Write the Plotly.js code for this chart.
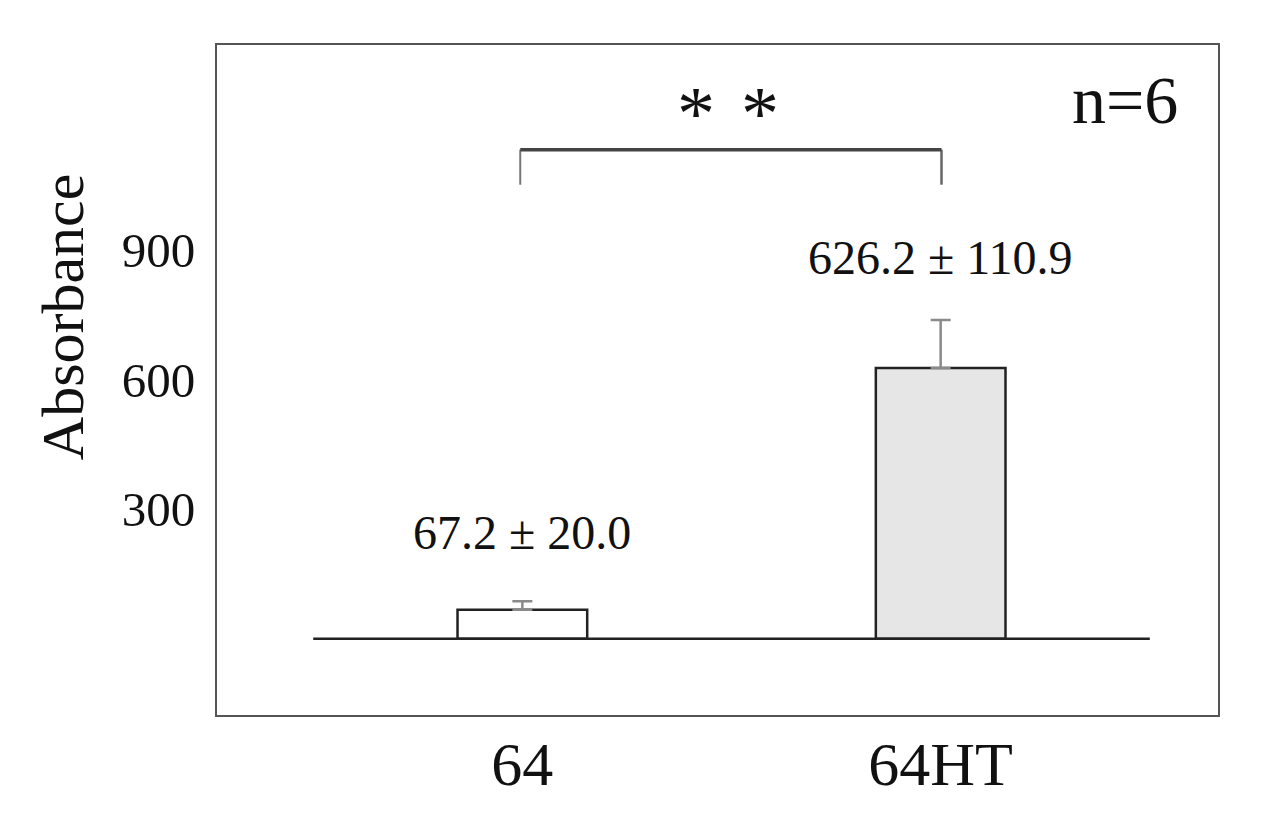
<!DOCTYPE html>
<html>
<head>
<meta charset="utf-8">
<script src="https://cdn.plot.ly/plotly-3.0.1.min.js"></script>
<style>html,body{margin:0;padding:0;background:#fff;}#chart{width:1262px;height:815px;}</style>
</head>
<body>
<div id="chart"></div>
<script>
const categories = ['64', '64HT'];
const means = [67.2, 626.2];
const sems = [20.0, 110.9];
const barColors = ['#ffffff', '#e6e6e6'];
const yTicks = [300, 600, 900];
const valueLabels = ['67.2 ± 20.0', '626.2 ± 110.9'];
const labelY = [245, 882];

const FONT = 'Liberation Serif, Times New Roman, serif';

const trace = {
  type: 'bar',
  x: categories,
  y: means,
  width: 0.31,
  marker: { color: barColors, line: { color: '#222', width: 2.5 } },
  error_y: { type: 'data', symmetric: false, array: sems, arrayminus: [0, 0], color: '#8a8a8a', thickness: 2.5, width: 10 },
  hoverinfo: 'none'
};

const annotations = categories.map((c, i) => ({
  x: i, y: labelY[i], xref: 'x', yref: 'y', text: valueLabels[i], showarrow: false,
  xanchor: 'center', yanchor: 'middle', font: { family: FONT, size: 48, color: '#111' }
}));
[0.416, 0.567].forEach(xp => annotations.push({ x: xp, y: 1215, xref: 'x', yref: 'y', text: '*', showarrow: false,
  xanchor: 'center', yanchor: 'middle', font: { family: FONT, size: 76, color: '#111' } }));
annotations.push({ x: 1.44, y: 1245, xref: 'x', yref: 'y', text: 'n=6', showarrow: false,
  xanchor: 'center', yanchor: 'middle', font: { family: FONT, size: 68, color: '#111' } });
annotations.push({ x: -0.153, y: 0.595, xref: 'paper', yref: 'paper', text: 'Absorbance', showarrow: false,
  textangle: -90, xanchor: 'center', yanchor: 'middle', font: { family: FONT, size: 60, color: '#111' } });

const layout = {
  width: 1262, height: 815,
  margin: { l: 217, r: 44, t: 45, b: 100 },
  paper_bgcolor: '#fff', plot_bgcolor: '#fff',
  showlegend: false,
  font: { family: FONT, color: '#111' },
  xaxis: {
    type: 'category', range: [-0.73, 1.663], showgrid: false, zeroline: false,
    showline: true, mirror: true, linecolor: '#555', linewidth: 2, ticks: '',
    tickfont: { family: FONT, size: 62, color: '#111' }, ticklabelstandoff: -6
  },
  yaxis: {
    range: [-176, 1373], tickvals: yTicks, ticktext: yTicks.map(String), showgrid: false, zeroline: false,
    showline: true, mirror: true, linecolor: '#555', linewidth: 2, ticks: '',
    tickfont: { family: FONT, size: 49, color: '#111' }, ticklabelstandoff: 10
  },
  shapes: [
    { type: 'line', xref: 'x', yref: 'y', x0: -0.5, x1: 1.5, y0: 0, y1: 0, line: { color: '#222', width: 2.5 } },
    { type: 'line', xref: 'x', yref: 'y', x0: -0.005, x1: -0.005, y0: 1050, y1: 1131, line: { color: '#777', width: 2 } },
    { type: 'line', xref: 'x', yref: 'y', x0: 1.002, x1: 1.002, y0: 1050, y1: 1131, line: { color: '#666', width: 2.5 } },
    { type: 'line', xref: 'x', yref: 'y', x0: -0.005, x1: 1.002, y0: 1131, y1: 1131, line: { color: '#444', width: 3.5 } }
  ],
  annotations: annotations
};

Plotly.newPlot('chart', [trace], layout, { displayModeBar: false, staticPlot: true });
</script>
</body>
</html>
